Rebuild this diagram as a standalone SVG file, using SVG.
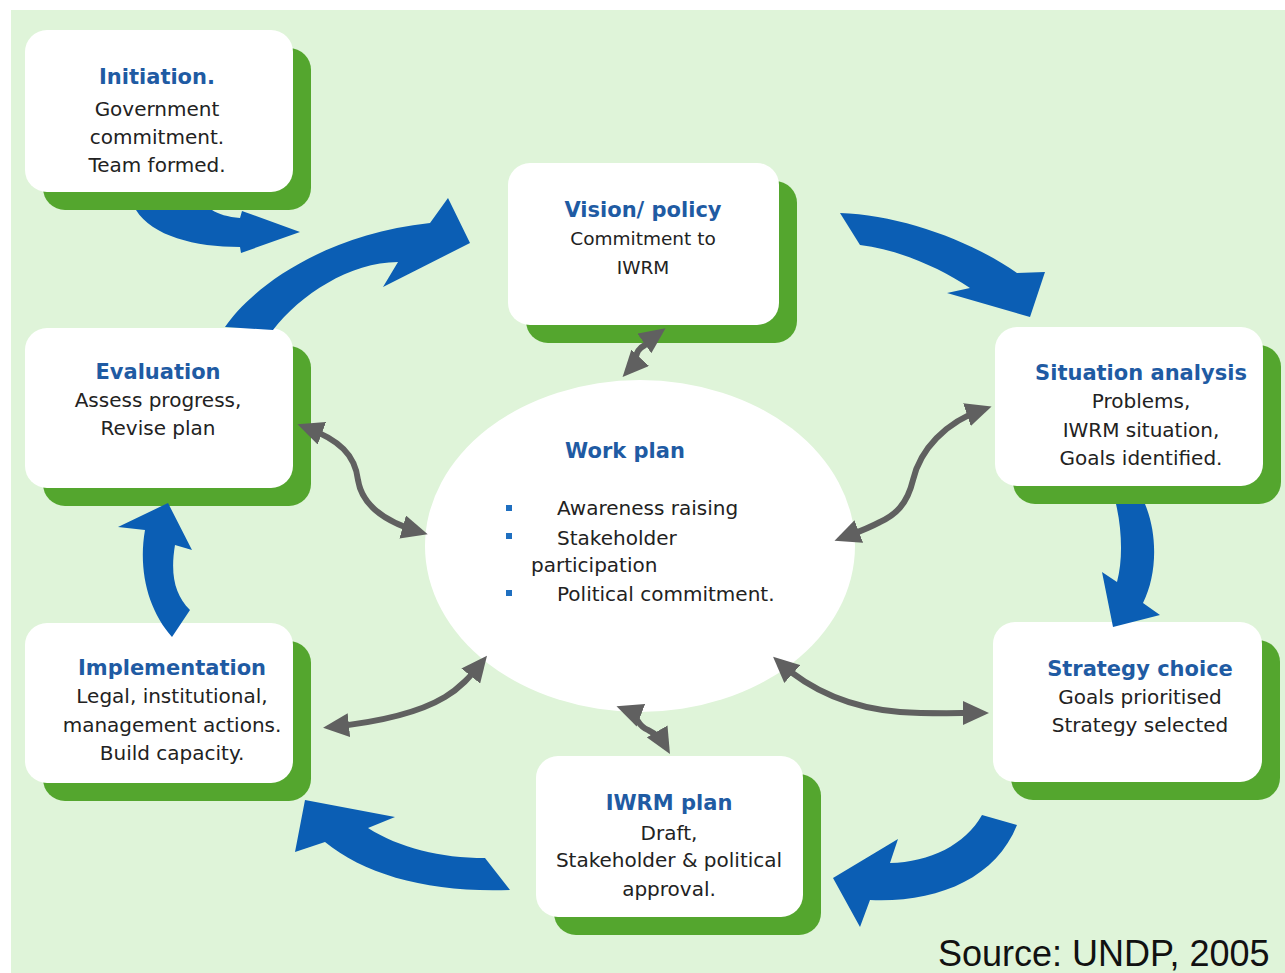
<svg xmlns="http://www.w3.org/2000/svg" width="1285" height="973" viewBox="0 0 1285 973">
<style>
.bg{fill:#dff4d9}
.shadow{fill:#54a62e}
.box{fill:#ffffff}
.title{font-family:"DejaVu Sans",Verdana,sans-serif;font-weight:bold;font-size:21px;fill:#1f5ba3;text-anchor:middle}
.body{font-family:"DejaVu Sans",Verdana,sans-serif;font-size:20px;fill:#222;text-anchor:middle}
.wp{font-family:"DejaVu Sans",Verdana,sans-serif;font-size:20px;fill:#222}
.bullet{fill:#1f6fc0}
.blue{fill:#0b5eb4}
.grey{fill:none;stroke:#606060;stroke-width:6;marker-start:url(#gh);marker-end:url(#gh)}
.src{font-family:"Liberation Sans",Arial,sans-serif;font-size:36px;fill:#111}
</style>
<defs>
<marker id="gh" markerUnits="userSpaceOnUse" markerWidth="26" markerHeight="24" refX="18" refY="12" orient="auto-start-reverse">
<path d="M0,0 L26,12 L0,24 Z" fill="#606060"/>
</marker>
</defs>
<rect class="bg" x="11" y="10" width="1274" height="963"/>

<g id="workplan">
<ellipse cx="640" cy="546" rx="215" ry="166" fill="#ffffff"/>
<text class="title" x="625" y="458">Work plan</text>
<rect class="bullet" x="506" y="505" width="6" height="6"/>
<rect class="bullet" x="506" y="533" width="6" height="6"/>
<rect class="bullet" x="506" y="590" width="6" height="6"/>
<text class="wp" x="557" y="515">Awareness raising</text>
<text class="wp" x="557" y="545">Stakeholder</text>
<text class="wp" x="531" y="572">participation</text>
<text class="wp" x="557" y="601">Political commitment.</text>
</g>

<g id="initiation">
<rect class="shadow" x="43" y="48" width="268" height="162" rx="22"/>
<rect class="box" x="25" y="30" width="268" height="162" rx="22"/>
<text class="title" x="157" y="84">Initiation.</text>
<text class="body" x="157" y="116">Government</text>
<text class="body" x="157" y="144">commitment.</text>
<text class="body" x="157" y="172">Team formed.</text>
</g>

<g id="vision">
<rect class="shadow" x="526" y="181" width="271" height="162" rx="22"/>
<rect class="box" x="508" y="163" width="271" height="162" rx="22"/>
<text class="title" x="643" y="217">Vision/ policy</text>
<text class="body" x="643" y="245" style="font-size:18.5px">Commitment to</text>
<text class="body" x="643" y="274" style="font-size:18.5px">IWRM</text>
</g>

<g id="situation">
<rect class="shadow" x="1013" y="345" width="268" height="159" rx="22"/>
<rect class="box" x="995" y="327" width="268" height="159" rx="22"/>
<text class="title" x="1141" y="380">Situation analysis</text>
<text class="body" x="1141" y="408">Problems,</text>
<text class="body" x="1141" y="437">IWRM situation,</text>
<text class="body" x="1141" y="465">Goals identified.</text>
</g>

<g id="strategy">
<rect class="shadow" x="1011" y="640" width="269" height="160" rx="22"/>
<rect class="box" x="993" y="622" width="269" height="160" rx="22"/>
<text class="title" x="1140" y="676">Strategy choice</text>
<text class="body" x="1140" y="704">Goals prioritised</text>
<text class="body" x="1140" y="732">Strategy selected</text>
</g>

<g id="iwrm">
<rect class="shadow" x="554" y="774" width="267" height="161" rx="22"/>
<rect class="box" x="536" y="756" width="267" height="161" rx="22"/>
<text class="title" x="669" y="810">IWRM plan</text>
<text class="body" x="669" y="840">Draft,</text>
<text class="body" x="669" y="867">Stakeholder &amp; political</text>
<text class="body" x="669" y="896">approval.</text>
</g>

<g id="implementation">
<rect class="shadow" x="43" y="641" width="268" height="160" rx="22"/>
<rect class="box" x="25" y="623" width="268" height="160" rx="22"/>
<text class="title" x="172" y="675">Implementation</text>
<text class="body" x="172" y="703">Legal, institutional,</text>
<text class="body" x="172" y="732">management actions.</text>
<text class="body" x="172" y="760">Build capacity.</text>
</g>

<g id="evaluation">
<rect class="shadow" x="43" y="346" width="268" height="160" rx="22"/>
<rect class="box" x="25" y="328" width="268" height="160" rx="22"/>
<text class="title" x="158" y="379">Evaluation</text>
<text class="body" x="158" y="407">Assess progress,</text>
<text class="body" x="158" y="435">Revise plan</text>
</g>

<g id="connectors">
<path class="blue" d="M136,210 C152,236 195,247 240,247 L241,253 L300,232 L242,211 L240,218 C228,217 218,214 212,210 Z"/>
<path class="blue" d="M225,327 C250,290 320,235 430,223 L448,198 L470,243 L383,287 L398,262 C350,262 300,295 273,330 Z"/>
<path class="blue" d="M840,213 C900,215 970,240 1017,273 L1045,272 L1030,317 L947,293 L970,288 C940,268 900,250 860,245 Z"/>
<path class="blue" d="M1116,504 C1122,530 1123,560 1117,582 L1102,572 L1113,627 L1160,615 L1143,603 C1157,575 1158,535 1145,504 Z"/>
<path class="blue" d="M982,815 C965,845 930,862 890,863 L898,839 L833,878 L860,927 L870,900 C935,903 995,880 1017,825 Z"/>
<path class="blue" d="M485,858 C440,858 400,848 368,828 L395,817 L305,800 L295,852 L325,842 C365,875 430,893 510,890 Z"/>
<path class="blue" d="M172,637 C148,610 138,570 145,530 L118,527 L168,503 L192,550 L175,545 C170,575 175,595 190,610 Z"/>

<path class="grey" d="M628,371 C640,358 632,352 645,345 C653,340 652,338 659,333"/>
<path class="grey" d="M984,409 C945,422 920,450 913,480 C907,505 895,515 880,522 C865,530 855,533 842,538"/>
<path class="grey" d="M305,427 C340,440 355,455 358,480 C362,505 385,522 420,532"/>
<path class="grey" d="M331,727 C380,722 420,712 445,697 C460,688 470,677 482,662"/>
<path class="grey" d="M779,662 C810,690 850,708 900,712 C930,714 955,713 981,713"/>
<path class="grey" d="M624,709 C640,715 635,725 648,730 C658,735 662,740 666,747"/>
</g>

<text class="src" x="938" y="966">Source: UNDP, 2005</text>
</svg>
